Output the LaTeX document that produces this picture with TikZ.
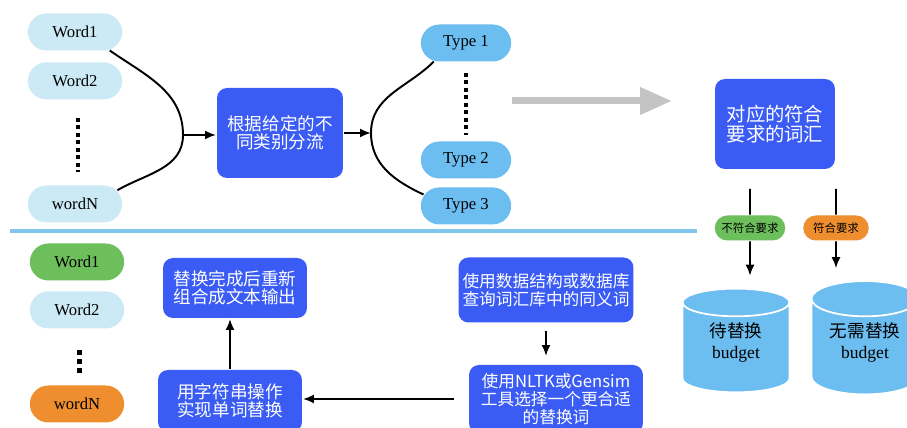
\documentclass[tikz,border=0pt]{standalone}
\usepackage{fontspec}
\setmainfont{Liberation Serif}
\newfontfamily\cjk{Noto Sans CJK SC}
\usetikzlibrary{arrows.meta,positioning,shapes.misc,shapes.geometric}

\definecolor{palebl}{HTML}{CCE9F6}
\definecolor{typebl}{HTML}{6CBDF0}
\definecolor{boxbl}{HTML}{3A5CF4}
\definecolor{okgreen}{HTML}{6DBF5B}
\definecolor{okorange}{HTML}{EE8E2F}
\definecolor{linebl}{HTML}{80C6EE}
\definecolor{arrgray}{HTML}{C4C4C4}

\begin{document}
\begin{tikzpicture}[->,>={Latex[length=2.2mm,width=1.8mm]},line width=1.1pt,
            x=0.02cm,y=0.02cm,node distance=0.2cm,
            word/.style={rounded rectangle,fill=palebl,minimum width=2.12cm,
                         minimum height=0.74cm,font=\fontsize{9.5}{10}\selectfont},
            type/.style={word,fill=typebl,minimum width=2.04cm},
            task/.style={rectangle,rounded corners=0.2cm,fill=boxbl,text=white,
                         align=center,inner sep=1pt,font=\cjk\fontsize{10}{10.5}\selectfont},
            tag/.style={rounded rectangle,minimum width=1.48cm,minimum height=0.5cm,
                        inner sep=1pt,font=\cjk\fontsize{6.5}{7}\selectfont},
            store/.style={cylinder,shape border rotate=90,aspect=0.43,
                          minimum width=2.14cm,minimum height=2.06cm,text depth=0.4cm,
                          cylinder uses custom fill,cylinder body fill=typebl,
                          cylinder end fill=typebl,draw=white,line width=1pt,
                          align=center,font=\fontsize{10}{12}\selectfont},
            vdots/.style={-,line width=0.08cm,dash pattern=on 0.08cm off 0.07cm}]

      \clip (0,0) rectangle (907,428);
      \fill[-,white] (0,0) rectangle (907,428);

      % top: words are split into types
      \node[word] (w_1) at (75,396) {Word1};
      \node[word] (w_2) [below=of w_1] {Word2};
      \node[word] (w_n) at (75,224) {wordN};
      \draw[vdots] (78,310) -- (78,256);

      \node[task,minimum width=2.52cm,minimum height=1.8cm] (b_1) at (280,295) {根据给定的不\\同类别分流};
      \coordinate (j_1) at (183,293);
      \coordinate (j_2) at (371,295);

      \node[type] (t_1) at (466,385) {Type 1};
      \node[type] (t_2) at (466,268) {Type 2};
      \node[type] (t_3) [below=0.14cm of t_2] {Type 3};
      \draw[vdots] (466,355) -- (466,293);

      \draw[-] (w_1.-28) to[out=-35,in=90] (j_1) to[out=-90,in=30] (w_n.18);
      \draw (j_1) -- (j_1 -| b_1.west);
      \draw (b_1) -- (j_2);
      \draw[-] (t_1.210) to[out=225,in=90] (j_2) to[out=-90,in=155] (t_3.165);

      \coordinate (g_s) at (512,327);
      \coordinate (g_e) at (672,327);
      \draw[arrgray,line width=0.14cm,-{Triangle[length=0.64cm,width=0.52cm]}] (g_s) -- (g_e);

      \node[task,minimum width=2.4cm,minimum height=1.8cm,
            font=\cjk\fontsize{11}{11.5}\selectfont] (b_2) at (775,304) {对应的符合\\要求的词汇};

      \node[tag,fill=okgreen] (l_1) at (750,200) {不符合要求};
      \node[tag,fill=okorange,minimum width=1.38cm] (l_2) at (836,200) {符合要求};

      \node[store] (c_1) at (736,77) {{\cjk 待替换}\\budget};
      \node[store] (c_2) at (865,77) {{\cjk 无需替换}\\budget};

      \draw[-,shorten <=0.38cm] (b_2.south -| l_1) -- (l_1);
      \draw[shorten >=0.24cm] (l_1) -- (l_1 |- c_1.north);
      \draw[-,shorten <=0.38cm] (b_2.south -| l_2) -- (l_2);
      \draw[shorten >=0.24cm] (l_2) -- (l_2 |- c_2.north);

      \draw[-,linebl,line width=0.08cm] (10,197) -- (697,197);

      % bottom: replacing the words
      \node[word,fill=okgreen] (g_1) at (77,166) {Word1};
      \node[word] (g_2) [below=0.18cm of g_1] {Word2};
      \node[word,fill=okorange] (g_n) at (77,24) {wordN};
      \draw[vdots,line width=0.1cm,dash pattern=on 0.1cm off 0.08cm] (79,78) -- (79,53);

      \node[task,minimum width=2.88cm,minimum height=1.2cm] (r_1) at (235,140) {替换完成后重新\\组合成文本输出};
      \node[task,minimum width=2.88cm,minimum height=1.24cm] (r_2) at (230,27) {用字符串操作\\实现单词替换};
      \node[task,minimum width=3.5cm,minimum height=1.3cm,
            font=\cjk\fontsize{9.5}{10.2}\selectfont] (r_3) at (546,138) {使用数据结构或数据库\\查询词汇库中的同义词};
      \node[task,minimum width=3.48cm,minimum height=1.36cm,
            font=\cjk\fontsize{9.5}{10.2}\selectfont] (r_4) at (556,29) {使用NLTK或Gensim\\工具选择一个更合适\\的替换词};

      \draw (r_2) -- (r_2 |- r_1.south);
      \draw[shorten <=0.16cm,shorten >=0.16cm] (r_3) -- (r_3 |- r_4.north);
      \draw[shorten <=0.28cm] (r_4.west) -- (r_4.west -| r_2.east);

\end{tikzpicture}
\end{document}
